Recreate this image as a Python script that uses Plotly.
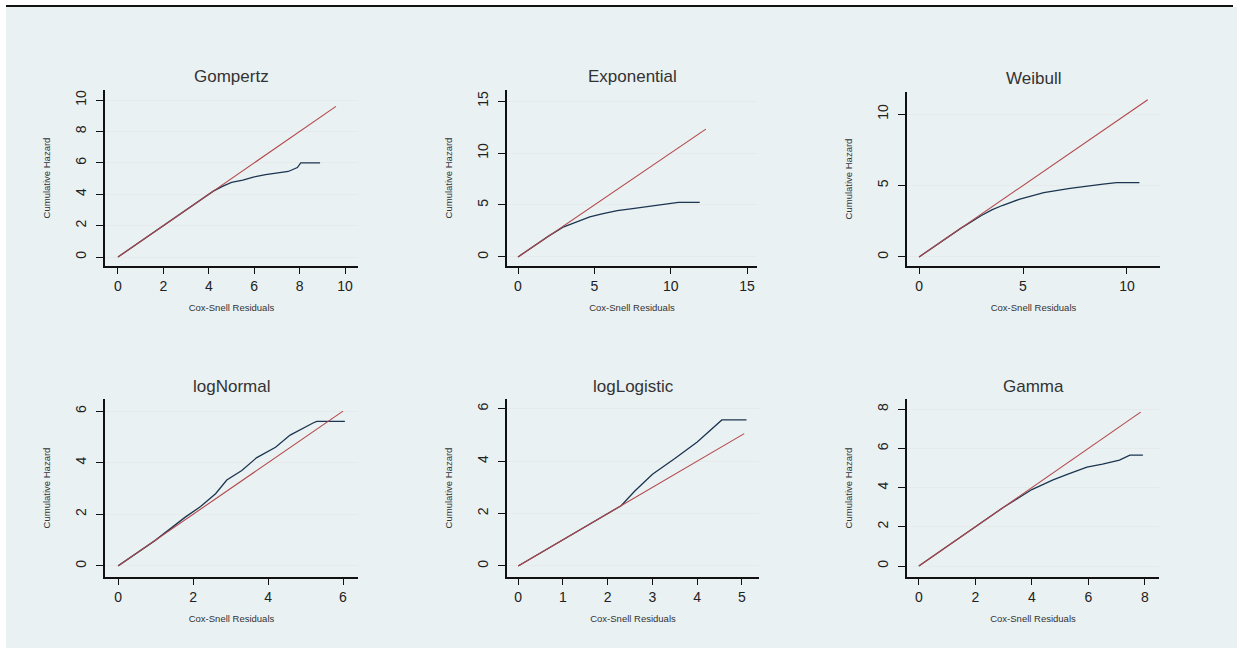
import plotly.graph_objects as go

W, H = 1237, 648

titles = ["Gompertz", "Exponential", "Weibull", "logNormal", "logLogistic", "Gamma"]

# Nelson-Aalen cumulative hazard of Cox-Snell residuals
gomp_x = [0, 0.5, 1, 2, 3, 3.5, 4.0, 4.2, 4.6, 5.0, 5.5, 6.0, 6.5, 7.0, 7.5, 7.9, 8.05, 8.9]
gomp_y = [0, 0.5, 1, 2, 3, 3.5, 3.95, 4.2, 4.5, 4.75, 4.9, 5.1, 5.25, 5.35, 5.45, 5.7, 6.0, 6.0]
expo_x = [0, 1, 2, 3, 3.5, 4, 4.7, 5.5, 6.5, 7.5, 8.5, 9.75, 10.5, 11.9]
expo_y = [0, 1, 2, 2.9, 3.2, 3.5, 3.85, 4.15, 4.45, 4.65, 4.85, 5.1, 5.25, 5.25]
weib_x = [0, 1, 2, 3, 3.5, 4, 4.85, 6, 7.26, 8.85, 9.5, 10.6]
weib_y = [0, 1, 2, 2.9, 3.3, 3.6, 4.05, 4.5, 4.8, 5.1, 5.2, 5.2]
lnorm_x = [0, 1, 1.8, 2.2, 2.6, 2.9, 3.3, 3.7, 4.2, 4.59, 5.2, 5.3, 6.05]
lnorm_y = [0, 1.0, 1.9, 2.3, 2.8, 3.33, 3.7, 4.2, 4.6, 5.07, 5.54, 5.6, 5.6]
llog_x = [0, 1, 2, 2.3, 2.6, 3.0, 3.5, 4.0, 4.55, 5.1]
llog_y = [0, 1, 2, 2.3, 2.85, 3.5, 4.1, 4.73, 5.57, 5.57]
gamma_x = [0, 1, 2, 3, 4, 4.75, 5.3, 5.95, 6.5, 7.1, 7.47, 7.93]
gamma_y = [0, 1, 2, 3, 3.9, 4.39, 4.7, 5.05, 5.2, 5.4, 5.66, 5.66]

# end of the 45-degree reference line per panel
ref_max = [9.6, 12.3, 11.0, 6.0, 5.05, 7.85]

# tick values
x_ticks = [[0, 2, 4, 6, 8, 10], [0, 5, 10, 15], [0, 5, 10], [0, 2, 4, 6], [0, 1, 2, 3, 4, 5], [0, 2, 4, 6, 8]]
y_ticks = [[0, 2, 4, 6, 8, 10], [0, 5, 10, 15], [0, 5, 10], [0, 2, 4, 6], [0, 2, 4, 6], [0, 2, 4, 6, 8]]
x_ranges = [[-0.57, 10.57], [-0.72, 15.65], [-0.58, 11.59], [-0.35, 6.4], [-0.25, 5.38], [-0.42, 8.5]]
y_ranges = [[-0.57, 10.64], [-0.87, 16.06], [-0.63, 11.54], [-0.43, 6.47], [-0.42, 6.37], [-0.56, 8.52]]

curves = [(gomp_x, gomp_y), (expo_x, expo_y), (weib_x, weib_y),
          (lnorm_x, lnorm_y), (llog_x, llog_y), (gamma_x, gamma_y)]

# plot-region pixel boxes (left, right, top, bottom)
boxes = [(105, 358, 90, 266), (507, 757, 90, 266), (907, 1160, 92, 266),
         (105, 358, 399, 577), (507, 759, 399, 577), (907, 1159, 399, 577)]

RED = "#b2474a"
NAVY = "#1b3550"
FONT = "Liberation Sans, Arial, sans-serif"

fig = go.Figure()
layout = dict(
    width=W, height=H, margin=dict(l=0, r=0, t=0, b=0),
    paper_bgcolor="white", plot_bgcolor="white", showlegend=False,
    font=dict(family=FONT, color="#222"),
)
annotations = []
for i in range(6):
    n = "" if i == 0 else str(i + 1)
    xa, ya = "x" + n, "y" + n
    l, r, t, b = boxes[i]
    cx, cy = curves[i]
    fig.add_trace(go.Scatter(x=cx, y=cy, mode="lines", line=dict(color=NAVY, width=1.3),
                             xaxis=xa, yaxis=ya, hoverinfo="skip"))
    fig.add_trace(go.Scatter(x=[0, ref_max[i]], y=[0, ref_max[i]], mode="lines",
                             line=dict(color=RED, width=1.1), xaxis=xa, yaxis=ya, hoverinfo="skip"))
    common = dict(showline=True, linecolor="#111", linewidth=1.5, ticks="outside",
                  tickcolor="#111", zeroline=False, mirror=False,
                  tickfont=dict(size=14, family=FONT, color="#222"))
    layout["xaxis" + n] = dict(domain=[l / W, r / W], anchor=ya, range=x_ranges[i],
                               tickvals=x_ticks[i], showgrid=False, ticklen=6,
                               title=dict(text="Cox-Snell Residuals", font=dict(size=9.5, family=FONT, color="#333"), standoff=12),
                               **common)
    layout["yaxis" + n] = dict(domain=[1 - b / H, 1 - t / H], anchor=xa, range=y_ranges[i],
                               tickvals=y_ticks[i], showgrid=True, gridcolor="#e6eaea", gridwidth=1,
                               tickangle=-90, ticklen=7, ticklabelstandoff=5,
                               title=dict(text="Cumulative Hazard", font=dict(size=9.5, family=FONT, color="#333"), standoff=20),
                               **common)
    annotations.append(dict(text=titles[i], x=(l + r) / 2 / W, y=1 - (t - 13) / H, xref="paper", yref="paper",
                            xanchor="center", yanchor="middle", showarrow=False,
                            font=dict(size=17, family=FONT, color="#333")))

layout["annotations"] = annotations
layout["shapes"] = [
    dict(type="rect", xref="paper", yref="paper", x0=6 / W, x1=1, y0=0, y1=1 - 7 / H,
         fillcolor="#eaf1f3", line=dict(width=0), layer="below"),
    dict(type="line", xref="paper", yref="paper", x0=6 / W, x1=1233 / W, y0=1 - 6 / H, y1=1 - 6 / H,
         line=dict(color="#111", width=2)),
]
fig.update_layout(**layout)
fig.write_html("out.html")
